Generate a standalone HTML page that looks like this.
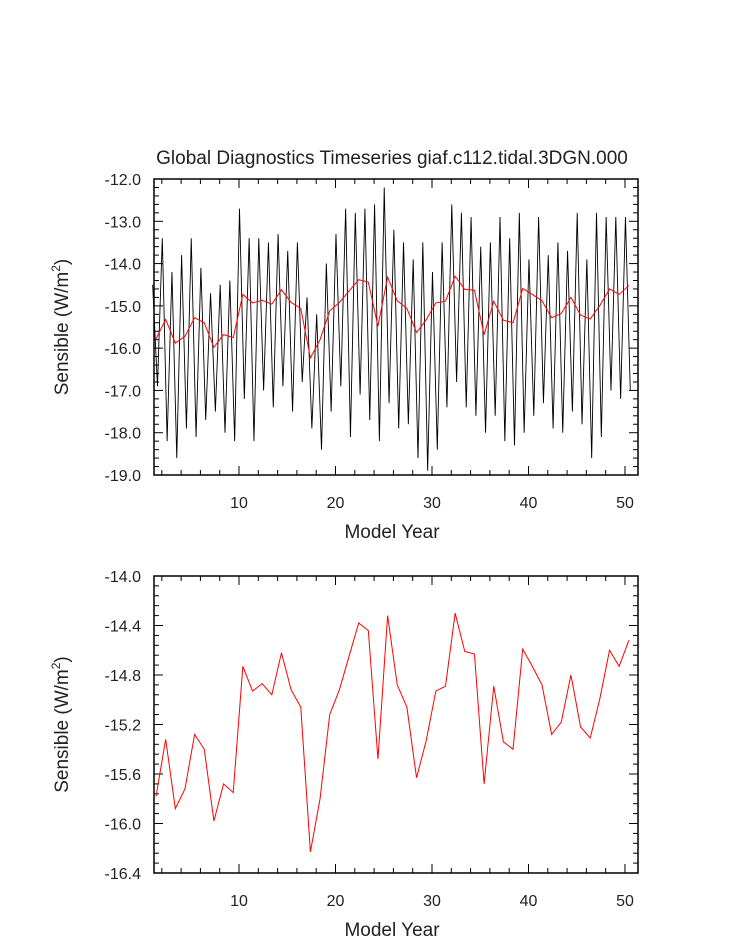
<!DOCTYPE html>
<html><head><meta charset="utf-8"><style>
body{margin:0;background:#fff;}
svg text{font-family:"Liberation Sans",sans-serif;fill:#222;}
</style></head><body>
<svg id="c" width="733" height="945" xmlns="http://www.w3.org/2000/svg"></svg>
<script>
const annualYears=[1,2,3,4,5,6,7,8,9,10,11,12,13,14,15,16,17,18,19,20,21,22,23,24,25,26,27,28,29,30,31,32,33,34,35,36,37,38,39,40,41,42,43,44,45,46,47,48,49,50];
const annualMean=[-15.78,-15.32,-15.88,-15.72,-15.28,-15.40,-15.98,-15.68,-15.75,-14.73,-14.93,-14.87,-14.96,-14.62,-14.92,-15.06,-16.23,-15.80,-15.12,-14.92,-14.65,-14.38,-14.44,-15.48,-14.32,-14.88,-15.06,-15.63,-15.33,-14.93,-14.89,-14.30,-14.61,-14.63,-15.68,-14.89,-15.34,-15.40,-14.59,-14.73,-14.88,-15.28,-15.18,-14.80,-15.22,-15.31,-14.99,-14.60,-14.73,-14.52];
const yearMax=[-14.5,-13.4,-14.2,-13.8,-13.4,-14.1,-14.7,-14.5,-14.4,-12.7,-13.4,-13.4,-13.5,-13.3,-13.7,-13.5,-14.8,-15.2,-14.0,-13.3,-12.7,-12.8,-12.7,-12.6,-12.2,-13.2,-13.5,-13.9,-13.5,-14.2,-13.5,-12.6,-12.8,-12.9,-13.6,-13.5,-12.9,-13.4,-12.8,-13.9,-12.9,-13.8,-13.5,-13.7,-12.8,-13.9,-12.8,-12.9,-12.9,-12.9];
const yearMin=[-16.9,-18.2,-18.6,-17.9,-18.1,-17.7,-17.5,-18.0,-18.2,-17.2,-18.2,-17.0,-17.4,-16.9,-17.5,-16.8,-17.9,-18.4,-17.5,-16.9,-18.1,-17.1,-17.7,-18.2,-17.3,-17.9,-17.8,-18.6,-18.9,-18.4,-17.4,-16.8,-17.4,-17.6,-18.0,-17.6,-18.2,-18.3,-18.0,-17.6,-17.3,-17.9,-18.0,-17.5,-17.8,-18.6,-18.1,-17.0,-17.2,-17.0];
const topYTicks=["-12.0","-13.0","-14.0","-15.0","-16.0","-17.0","-18.0","-19.0"];
const botYTicks=["-14.0","-14.4","-14.8","-15.2","-15.6","-16.0","-16.4"];
const xTicks=[10,20,30,40,50];

const svg=document.getElementById('c');
const NS='http://www.w3.org/2000/svg';
function el(t,a,p){const e=document.createElementNS(NS,t);for(const k in a)e.setAttribute(k,a[k]);(p||svg).appendChild(e);return e;}
const X0=154,X1=638,XMIN=1.19,XMAX=51.35;
const xs=v=>X0+(v-XMIN)/(XMAX-XMIN)*(X1-X0);
const OFF=0.4;

function panel(name,top,bot,ymax,ymin,yticks,minorStep,majorStep){
  const g=el('g',{});
  
  
  const ys=v=>top+(ymax-v)/(ymax-ymin)*(bot-top);
  for(let yr=2;yr<=50;yr+=2){
    const x=xs(yr),L=(yr%10===0)?9:5;
    el('line',{x1:x,x2:x,y1:bot,y2:bot-L,stroke:'#000','stroke-width':1},g);
    el('line',{x1:x,x2:x,y1:top,y2:top+L,stroke:'#000','stroke-width':1},g);
  }
  xTicks.forEach(t=>{const tx=el('text',{x:xs(t),y:bot+33,'font-size':16,'text-anchor':'middle'},g);tx.textContent=t;
    
    });
  const n=Math.round((ymax-ymin)/minorStep);
  for(let i=0;i<=n;i++){
    const v=ymax-i*minorStep,y=ys(v);const maj=(i%Math.round(majorStep/minorStep)===0);const L=maj?9:5;
    el('line',{x1:X0,x2:X0+L,y1:y,y2:y,stroke:'#000'},g);
    el('line',{x1:X1,x2:X1-L,y1:y,y2:y,stroke:'#000'},g);
  }
  yticks.forEach(t=>{const tx=el('text',{x:141,y:ys(parseFloat(t))+6,'font-size':16,'text-anchor':'end'},g);tx.textContent=t;
    
    });
  el('rect',{x:X0,y:top,width:X1-X0,height:bot-top,fill:'none',stroke:'#000','stroke-width':1.5},g);
  const xt=el('text',{x:392,y:bot+63,'font-size':19,'text-anchor':'middle'},g);xt.textContent='Model Year';
  
  
  const cy=(top+bot)/2;
  const yt=el('text',{x:68,y:cy,'font-size':19,'text-anchor':'middle',transform:`rotate(-90 68 ${cy})`},g);
  yt.innerHTML='Sensible (W/m<tspan font-size="12" dy="-8">2</tspan><tspan dy="8">)</tspan>';
  
  
  return ys;
}

const ysT=panel('top-panel',179,475,-12,-19,topYTicks,0.2,1);
const ysB=panel('bottom-panel',576,873,-14,-16.4,botYTicks,0.08,0.4);

const title=el('text',{x:392,y:164,'font-size':19,'text-anchor':'middle'});
title.textContent='Global Diagnostics Timeseries giaf.c112.tidal.3DGN.000';



let pts=[];
for(let i=0;i<yearMax.length;i++){
  pts.push(xs(annualYears[i]+OFF-0.35)+','+ysT(yearMax[i]));
  pts.push(xs(annualYears[i]+OFF+0.15)+','+ysT(yearMin[i]));
}
const blk=el('polyline',{points:pts.join(' '),fill:'none',stroke:'#000','stroke-width':0.9});



function redLine(ys,name){
  const p=annualYears.map((y,i)=>xs(y+OFF)+','+ys(annualMean[i])).join(' ');
  const l=el('polyline',{points:p,fill:'none',stroke:'#f00','stroke-width':1});
  
  
}
redLine(ysT,'annual-mean-top');
redLine(ysB,'annual-mean-bottom');
</script>
</body></html>
